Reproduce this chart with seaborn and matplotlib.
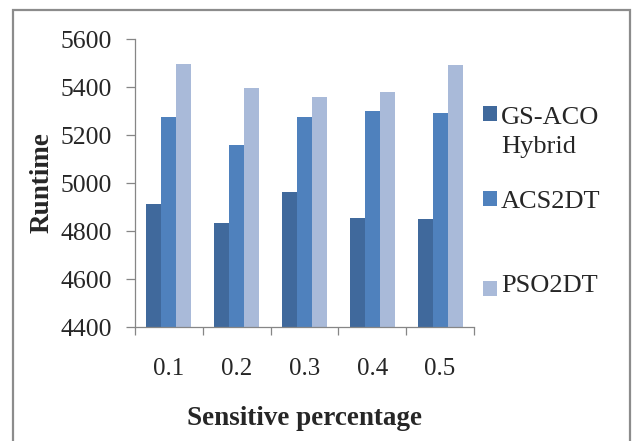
import matplotlib
matplotlib.use("Agg")
import matplotlib.pyplot as plt
import seaborn as sns
import pandas as pd
from matplotlib.patches import Rectangle
from matplotlib.ticker import FixedLocator

categories = ["0.1", "0.2", "0.3", "0.4", "0.5"]
gs_aco = [4912, 4833, 4961, 4854, 4848]
acs2dt = [5276, 5158, 5276, 5298, 5292]
pso2dt = [5497, 5394, 5357, 5379, 5490]
series_names = ["GS-ACO\nHybrid", "ACS2DT", "\nPSO2DT"]
yticks = [4400, 4600, 4800, 5000, 5200, 5400, 5600]

rows = []
for name, vals in zip(series_names, [gs_aco, acs2dt, pso2dt]):
    for c, v in zip(categories, vals):
        rows.append({"cat": c, "series": name, "value": v})
df = pd.DataFrame(rows)

sns.set_style("white")
plt.rcParams["font.family"] = ["Liberation Serif", "DejaVu Serif"]

fig = plt.figure(figsize=(6.32, 4.41), dpi=100)
ax = fig.add_axes([135 / 632, 1 - 327 / 441, (474 - 135) / 632, (327 - 39) / 441])

palette = ["#40699C", "#4F81BD", "#A9BAD9"]
sns.barplot(data=df, x="cat", y="value", hue="series", order=categories,
            hue_order=series_names, palette=palette, width=0.664, gap=0,
            saturation=1, ax=ax, linewidth=0, legend=True)

ax.set_ylim(4400, 5600)
ax.set_xlim(-0.5, len(categories) - 0.5)
ax.set_yticks(yticks)
ax.set_yticklabels([str(t) for t in yticks])

gray = "#868686"
for s in ["top", "right"]:
    ax.spines[s].set_visible(False)
for s in ["left", "bottom"]:
    ax.spines[s].set_color(gray)
    ax.spines[s].set_linewidth(0.9)

ax.tick_params(axis="y", direction="out", length=6.5, width=0.9, color=gray,
               labelsize=18.5, pad=10, left=True)
ax.xaxis.set_minor_locator(FixedLocator([i - 0.5 for i in range(len(categories) + 1)]))
ax.tick_params(axis="x", which="major", length=0, labelsize=18, pad=22)
ax.tick_params(axis="x", which="minor", direction="out", length=6, width=0.9,
               color=gray, bottom=True)

ax.set_xlabel("Sensitive percentage", fontsize=19.5, fontweight="bold", labelpad=19)
ax.set_ylabel("Runtime", fontsize=19.5, fontweight="bold", labelpad=4)

handles, labels = ax.get_legend_handles_labels()
if ax.legend_:
    ax.legend_.remove()
fs = 19
ls = 1.4
leg = fig.legend(handles, labels, loc="upper left",
                 bbox_to_anchor=(483 / 632, 1 - 107 / 441), frameon=False,
                 fontsize=fs, borderpad=0, borderaxespad=0, handlelength=0.53,
                 handleheight=0.5, handletextpad=0.16, labelspacing=1.25)
for t in leg.get_texts():
    t.set_linespacing(ls)

fig.canvas.draw()
hs = leg.legend_handles
# markers sit by the first line of GS-ACO's label and by the PSO2DT line
hs[0].set_y(hs[0].get_y() + 0.5 * ls * fs)
hs[2].set_y(hs[2].get_y() - 0.5 * ls * fs)

fig.patches.append(Rectangle((13 / 632, -0.05), (630 - 13) / 632, 1 - 10 / 441 + 0.05,
                             transform=fig.transFigure, fill=False,
                             edgecolor="#8C8C8C", linewidth=1.6, clip_on=False))

fig.savefig("out.png", dpi=100)
